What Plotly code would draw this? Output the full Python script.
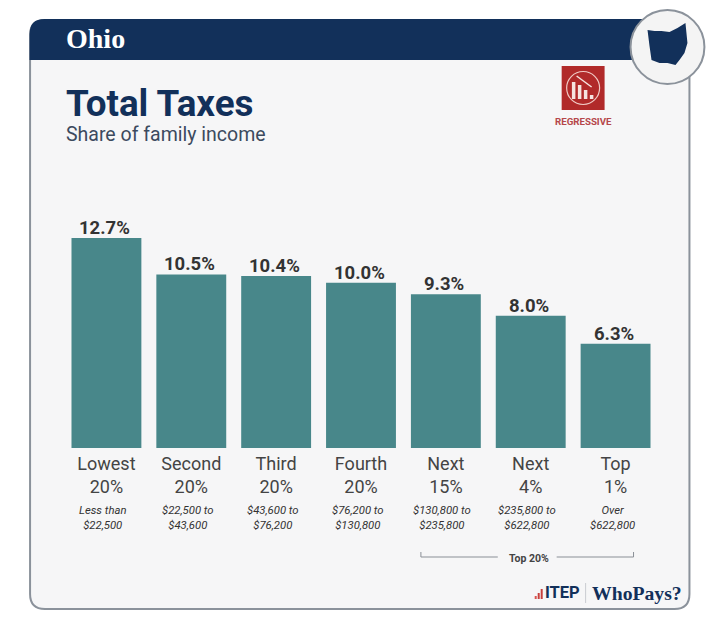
import plotly.graph_objects as go

categories = ["Lowest 20%", "Second 20%", "Third 20%", "Fourth 20%", "Next 15%", "Next 4%", "Top 1%"]
tick_labels = ["Lowest<br>20%", "Second<br>20%", "Third<br>20%", "Fourth<br>20%", "Next<br>15%", "Next<br>4%", "Top<br>1%"]
values = [12.7, 10.5, 10.4, 10.0, 9.3, 8.0, 6.3]
income_ranges = ["Less than<br>$22,500", "$22,500 to<br>$43,600", "$43,600 to<br>$76,200", "$76,200 to<br>$130,800",
                 "$130,800 to<br>$235,800", "$235,800 to<br>$622,800", "Over<br>$622,800"]

W, H = 720, 632
L, R, T, B = 63.5, 658.5, 150, 448
NAVY = "#12305a"


def px(x):
    return (x - L) / (R - L)


def py(y):
    return (B - y) / (B - T)


def pt(x, y):
    return f"{px(x):.5f},{py(y):.5f}"


def poly(points):
    return "M" + " L".join(pt(x, y) for x, y in points) + " Z"


def rounded(x0, y0, x1, y1, r):
    return (f"M{pt(x0 + r, y0)} L{pt(x1 - r, y0)} Q{pt(x1, y0)} {pt(x1, y0 + r)} L{pt(x1, y1 - r)} "
            f"Q{pt(x1, y1)} {pt(x1 - r, y1)} L{pt(x0 + r, y1)} Q{pt(x0, y1)} {pt(x0, y1 - r)} "
            f"L{pt(x0, y0 + r)} Q{pt(x0, y0)} {pt(x0 + r, y0)} Z")


def shape_path(path, fill, line=None, width=0):
    return dict(type="path", xref="paper", yref="paper", path=path, fillcolor=fill,
                line=dict(color=line or fill, width=width), layer="below")


def seg(x0, y0, x1, y1, color="#8a8f96", width=1, layer="below"):
    return dict(type="line", xref="paper", yref="paper", x0=px(x0), y0=py(y0), x1=px(x1), y1=py(y1),
                line=dict(color=color, width=width), layer=layer)


def circle(cx, cy, r, fill, line, width):
    return dict(type="circle", xref="paper", yref="paper", x0=px(cx - r), x1=px(cx + r), y0=py(cy - r), y1=py(cy + r),
                fillcolor=fill, line=dict(color=line, width=width), layer="below")


def note(x, y, text, size, color, family="Roboto", anchor="center"):
    return dict(xref="paper", yref="paper", x=px(x), y=py(y), text=text, showarrow=False, xanchor=anchor,
                yanchor="middle", align=anchor if anchor != "center" else "center",
                font=dict(family=family, size=size, color=color))


shapes = [
    shape_path(rounded(29.5, 20, 690, 609, 15), "#f6f6f7", "#8b929b", 2),
    shape_path(f"M{pt(29, 60)} L{pt(29, 34)} Q{pt(29, 19)} {pt(44, 19)} L{pt(660, 19)} L{pt(660, 60)} Z", NAVY),
    circle(668, 47, 37, "#f4f4f4", "#8b929b", 2),
    shape_path(poly([(648, 30), (655, 31), (662, 31), (670, 32), (678, 28), (686, 23), (688, 43), (685, 53),
                     (680, 60), (676, 65), (668, 63), (660, 63), (652, 60), (650, 46)]), NAVY),
    # regressive badge
    shape_path(poly([(562, 66), (605, 66), (605, 110), (562, 110)]), "#b12a2a"),
    circle(583.5, 88, 16.5, "rgba(0,0,0,0)", "#f0c9c4", 1.2),
    seg(574, 99, 574, 82, "#f6e4e0", 3.5),
    seg(580, 99, 580, 85, "#f6e4e0", 3.5),
    seg(586, 99, 586, 90, "#f6e4e0", 3.5),
    seg(592, 99, 592, 95, "#f6e4e0", 3.5),
    seg(577, 76, 592, 87, "#f6e4e0", 1.5),
    # top 20% bracket
    seg(421, 557, 498, 557),
    seg(557, 557, 634, 557),
    seg(421, 552, 421, 557),
    seg(634, 552, 634, 557),
    # ITEP mark
    seg(536, 599, 536, 596, "#d9534f", 2),
    seg(539, 599, 539, 593, "#c8403c", 2),
    seg(542, 599, 542, 589, "#c8403c", 2),
    seg(586, 583, 586, 603, "#c9ccd1", 1),
]

annotations = [
    note(64, 39, "<b>Ohio</b>", 28, "#ffffff", "Liberation Serif", "left"),
    note(64, 104, "<b>Total Taxes</b>", 36.8, NAVY, "Roboto", "left"),
    note(64, 134, "Share of family income", 19.5, "#3c4a5e", "Roboto", "left"),
    note(583.5, 122, "<b>REGRESSIVE</b>", 9.7, "#b5474a"),
    note(529, 558, "<b>Top 20%</b>", 10.5, "#444444"),
    note(543, 592, "<b>ITEP</b>", 16.5, NAVY, "Roboto", "left"),
    note(590, 593, "<b>WhoPays?</b>", 19.7, NAVY, "Liberation Serif", "left"),
]

fig = go.Figure(go.Bar(
    x=categories, y=values, marker=dict(color="#48878a", line=dict(width=0)), hoverinfo="skip",
))

for cat, val, income in zip(categories, values, income_ranges):
    annotations.append(dict(xref="x", yref="y", x=cat, y=val, text=f"<b>{val:.1f}%</b>", showarrow=False,
                            yanchor="middle", yshift=10, xshift=-1.5,
                            font=dict(family="Roboto", size=18.5, color="#333333")))
    annotations.append(dict(xref="x", yref="paper", x=cat, y=py(518), text=f"<i>{income}</i>", showarrow=False,
                            yanchor="middle", xshift=-3.5, font=dict(family="Roboto", size=11.3, color="#333333")))

fig.update_layout(
    width=W, height=H, autosize=False,
    margin=dict(l=L, r=W - R, t=T, b=H - B, pad=0),
    paper_bgcolor="#ffffff", plot_bgcolor="rgba(0,0,0,0)",
    bargap=15 / 85, showlegend=False,
    xaxis=dict(type="category", tickmode="array", tickvals=categories, ticktext=tick_labels, showline=False,
               showgrid=False, ticks="", zeroline=False, ticklabelstandoff=3,
               tickfont=dict(family="Roboto", size=18, color="#444444")),
    yaxis=dict(range=[0, 298 / 16.535], visible=False, showgrid=False, zeroline=False),
    shapes=shapes, annotations=annotations,
)
fig.write_html("out.html", config=dict(displayModeBar=False),
               post_script="document.body.style.margin='0';")
